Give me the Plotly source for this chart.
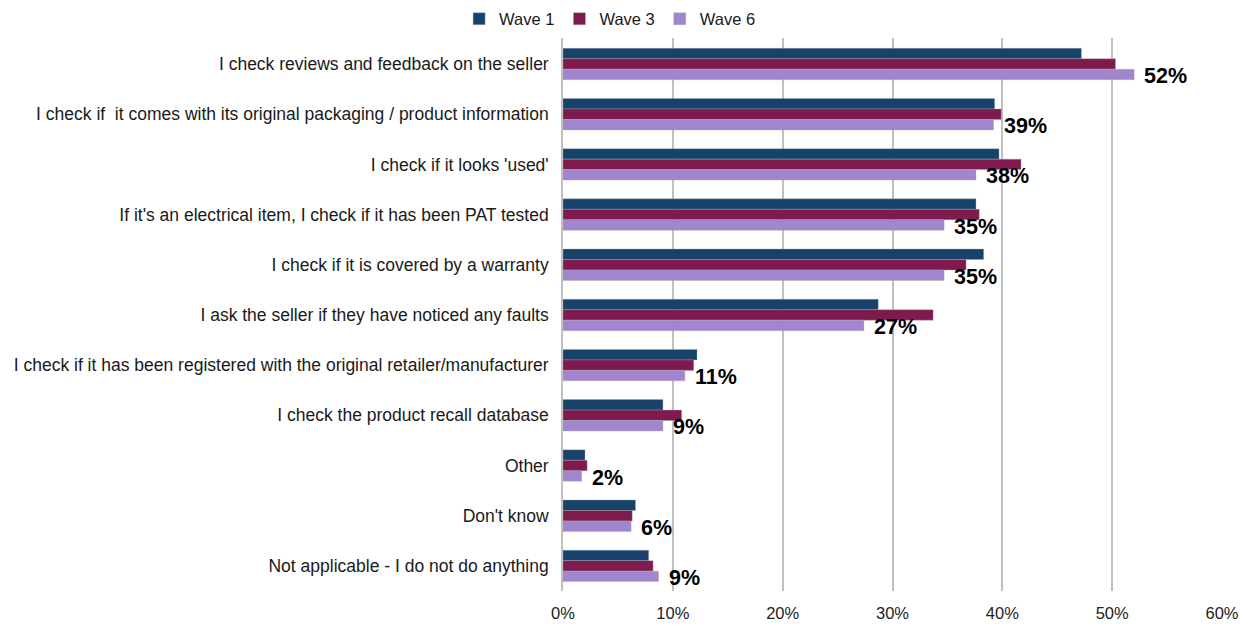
import plotly.graph_objects as go

categories = [
    "I check reviews and feedback on the seller",
    "I check if  it comes with its original packaging / product information",
    "I check if it looks 'used'",
    "If it's an electrical item, I check if it has been PAT tested",
    "I check if it is covered by a warranty",
    "I ask the seller if they have noticed any faults",
    "I check if it has been registered with the original retailer/manufacturer",
    "I check the product recall database",
    "Other",
    "Don't know",
    "Not applicable - I do not do anything",
]
wave1 = [47.2, 39.3, 39.7, 37.6, 38.3, 28.7, 12.2, 9.1, 2.0, 6.6, 7.8]
wave3 = [50.3, 39.9, 41.7, 37.9, 36.7, 33.7, 11.9, 10.8, 2.2, 6.3, 8.2]
wave6 = [52.0, 39.2, 37.6, 34.7, 34.7, 27.4, 11.1, 9.1, 1.7, 6.2, 8.7]
wave6_labels = ["52%", "39%", "38%", "35%", "35%", "27%", "11%", "9%", "2%", "6%", "9%"]

series = [("Wave 1", wave1, "#17436B"), ("Wave 3", wave3, "#7E1A4E"), ("Wave 6", wave6, "#A185CE")]

font = "Liberation Sans, Arial, sans-serif"
W, H = 1243, 617  # page body has an 8px margin
fig = go.Figure()
for name, vals, col in series:
    fig.add_trace(go.Bar(
        name=name, y=categories, x=vals, orientation="h",
        marker=dict(color=col, line=dict(color="rgba(170,170,170,0.6)", width=0.6)),
        hoverinfo="skip",
    ))

for cat, v, lab in zip(categories, wave6, wave6_labels):
    fig.add_annotation(
        x=v, y=cat, text=lab, showarrow=False, xanchor="left", yanchor="middle",
        xshift=8, yshift=-12,
        font=dict(family=font, size=21.5, color="#000000", weight="bold"),
    )

fig.update_layout(
    width=W, height=H,
    margin=dict(l=555, r=29, t=30, b=34, autoexpand=False),
    paper_bgcolor="white", plot_bgcolor="white",
    barmode="group", bargap=0.374, bargroupgap=0,
    font=dict(family=font, size=16.5, color="#1a1a1a"),
    legend=dict(
        orientation="h", xref="container", x=0.484, xanchor="center",
        yref="container", y=1 - 11 / H, yanchor="middle",
        font=dict(size=16.5, color="#1a1a1a"), itemwidth=30, traceorder="normal",
        tracegroupgap=0,
    ),
    showlegend=True,
)
fig.update_xaxes(
    range=[0, 60], dtick=10, ticksuffix="%",
    showgrid=True, gridcolor="#C0C0C0", gridwidth=1.6,
    zeroline=False, showline=False, ticks="",
    ticklabelstandoff=10, automargin=False,
    tickfont=dict(size=16.5, color="#222222"),
    fixedrange=True,
)
fig.update_yaxes(
    autorange="reversed", showgrid=False, ticks="",
    showline=True, linecolor="#C0C0C0", linewidth=1.6,
    ticklabelstandoff=9, automargin=False,
    tickfont=dict(size=17.5, color="#1a1a1a"),
    fixedrange=True,
)

fig.write_html("out.html")
